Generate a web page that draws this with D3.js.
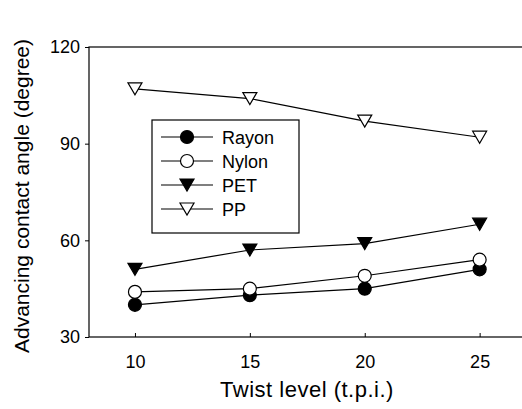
<!DOCTYPE html>
<html>
<head>
<meta charset="utf-8">
<script src="https://cdn.jsdelivr.net/npm/d3@7"></script>
<style>
  body { margin: 0; background: #fff; }
  text { font-family: "Liberation Sans", Arial, sans-serif; fill: #000; }
</style>
</head>
<body>
<div id="chart"></div>
<script>
const twist = [10, 15, 20, 25];
const rayon = [40, 43, 45, 51];
const nylon = [44, 45, 49, 54];
const pet = [51, 57, 59, 65];
const pp = [107, 104, 97, 92];
const yTicks = [30, 60, 90, 120];

const series = [
  { name: "Rayon", values: rayon, shape: "circle", fill: "#000" },
  { name: "Nylon", values: nylon, shape: "circle", fill: "#fff" },
  { name: "PET", values: pet, shape: "tri", fill: "#000" },
  { name: "PP", values: pp, shape: "tri", fill: "#fff" }
];

const W = 522, H = 409;
const plotL = 89, plotT = 47, plotR = 521, plotB = 337;

const svg = d3.select("#chart").append("svg")
  .attr("width", W).attr("height", H);

const x = d3.scaleLinear().domain([8, 26.8]).range([plotL, plotR]);
const y = d3.scaleLinear().domain([30, 120]).range([plotB, plotT]);

// frame (right side runs off the picture)
svg.append("rect")
  .attr("x", plotL).attr("y", plotT)
  .attr("width", 440).attr("height", plotB - plotT)
  .attr("fill", "none").attr("stroke", "#000").attr("stroke-width", 1.2);

const xAxis = svg.append("g")
  .attr("transform", "translate(0," + plotB + ")")
  .call(d3.axisBottom(x).tickValues(twist).tickSizeInner(-4).tickSizeOuter(0).tickPadding(18));
xAxis.select(".domain").remove();
xAxis.selectAll("text").style("font-size", "18px");

const yAxis = svg.append("g")
  .attr("transform", "translate(" + plotL + ",0)")
  .call(d3.axisLeft(y).tickValues(yTicks).tickSizeInner(4).tickSizeOuter(0).tickPadding(5));
yAxis.select(".domain").remove();
yAxis.selectAll("text").style("font-size", "18px");

const line = d3.line().x((d, i) => x(twist[i])).y(d => y(d));

function marker(g, s, cx, cy) {
  if (s.shape == "circle") {
    g.append("circle").attr("cx", cx).attr("cy", cy).attr("r", 6.5)
      .attr("fill", s.fill).attr("stroke", "#000").attr("stroke-width", 1.2);
  } else {
    const w = 7, h = 12;
    g.append("path")
      .attr("d", "M" + (cx - w) + "," + (cy - h / 2) + "L" + (cx + w) + "," + (cy - h / 2) + "L" + cx + "," + (cy + h / 2) + "Z")
      .attr("fill", s.fill).attr("stroke", "#000").attr("stroke-width", 1.2);
  }
}

series.forEach(s => {
  svg.append("path")
    .datum(s.values)
    .attr("d", line)
    .attr("fill", "none").attr("stroke", "#000").attr("stroke-width", 1.2);
  const g = svg.append("g");
  s.values.forEach((v, i) => marker(g, s, x(twist[i]), y(v)));
});

// legend
const lg = svg.append("g");
lg.append("rect")
  .attr("x", 152).attr("y", 120).attr("width", 147).attr("height", 113)
  .attr("fill", "#fff").attr("stroke", "#000").attr("stroke-width", 1.2);
series.forEach((s, i) => {
  const ly = 137 + i * 24;
  lg.append("line").attr("x1", 161).attr("x2", 213).attr("y1", ly).attr("y2", ly)
    .attr("stroke", "#000").attr("stroke-width", 1.2);
  marker(lg, s, 187, ly);
  lg.append("text").attr("x", 222).attr("y", ly + 6.5).style("font-size", "18px").text(s.name);
});

// axis titles
svg.append("text")
  .attr("x", 307).attr("y", 397)
  .attr("text-anchor", "middle").style("font-size", "22px").style("letter-spacing", "0.5px")
  .text("Twist level (t.p.i.)");

svg.append("text")
  .attr("transform", "translate(29,196)rotate(-90)")
  .attr("text-anchor", "middle").style("font-size", "21px")
  .text("Advancing contact angle (degree)");
</script>
</body>
</html>
